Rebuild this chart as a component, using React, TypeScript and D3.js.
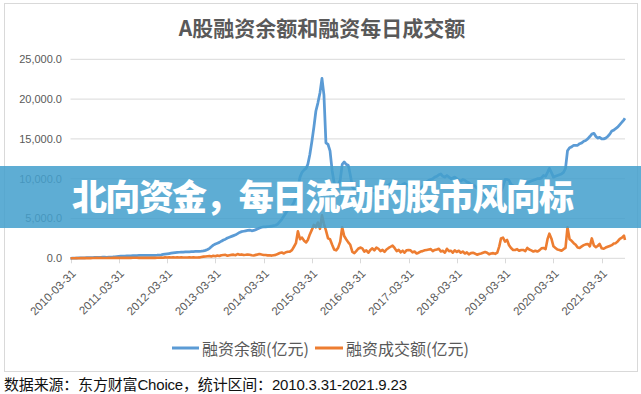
import React, { useRef, useEffect } from "react";
import * as d3 from "d3";

const WIDTH = 641;
const HEIGHT = 394;

// half-month sampling: 2010-03-31, then the 15th and the last day of every month
const startDate = new Date(2010, 2, 31);
const endDate = new Date(2021, 8, 23);

// 融资余额 (亿元)
const balanceValues: number[] = [
  5,
  // 2010 Apr-Dec
  10, 20, 30, 45, 55, 62, 68, 75, 82, 90, 98, 105, 112, 120, 128, 138, 135, 127,
  // 2011
  140, 155, 170, 190, 215, 240, 258, 272, 282, 292, 298, 312, 326, 340, 350, 356, 362, 366, 372, 376, 378, 380, 376, 382,
  // 2012
  392, 410, 440, 480, 520, 560, 600, 640, 680, 720, 740, 760, 775, 785, 795, 805, 815, 825, 840, 855, 870, 885, 900, 930,
  // 2013
  1000, 1100, 1250, 1450, 1650, 1800, 1900, 2000, 2150, 2300, 2400, 2550, 2650, 2750, 2850, 2950, 3100, 3250, 3350, 3400, 3450, 3500, 3550, 3450,
  // 2014
  3500, 3600, 3700, 3800, 3900, 3950, 3950, 3980, 4000, 4050, 4100, 4150, 4300, 4600, 4900, 5300, 5700, 6100, 6300, 6600, 7000, 7700, 8800, 10200,
  // 2015
  10800, 11100, 11300, 11800, 13000, 14700, 16500, 18500, 19500, 20800, 22600, 20500, 14500, 14300, 13500, 11000, 9500, 9100, 9200, 9800, 11800, 12100, 11800, 11700,
  // 2016
  10500, 9000, 8600, 8500, 8800, 9000, 8700, 8500, 8300, 8400, 8400, 8500, 8500, 8600, 8800, 9000, 9000, 8900, 9100, 9200, 9400, 9600, 9400, 9300,
  // 2017
  9200, 9100, 9300, 9400, 9300, 9000, 8900, 8800, 8700, 8600, 8700, 8800, 9000, 9300, 9600, 9800, 9900, 10000, 10200, 10300, 10500, 10600, 10300, 10200,
  // 2018
  10400, 10200, 10000, 10100, 10200, 10000, 9800, 9700, 9900, 9800, 9600, 9500, 9300, 9200, 9100, 8800, 8600, 8500, 8300, 7900, 7700, 7600, 7500, 7500,
  // 2019
  7400, 7500, 7700, 8400, 9000, 9900, 9900, 9800, 9300, 9100, 9000, 9000, 9100, 9200, 9400, 9400, 9500, 9600, 9700, 9800, 9900, 10000, 10000, 10100,
  // 2020
  10400, 10300, 10800, 11300, 10800, 10200, 10300, 10400, 10500, 10600, 10800, 11300, 13500, 13900, 14000, 14200, 14200, 14200, 14400, 14500, 14700, 14800, 15000, 15300,
  // 2021 Jan-Sep
  15600, 15700, 15300, 15100, 15200, 15000, 15000, 15100, 15300, 15600, 16000, 16100, 16300, 16500, 16800, 17100, 17400, 17600,
];

// 融资成交额 (亿元)
const turnoverValues: number[] = [
  10,
  // 2010 Apr-Dec
  15, 10, 22, 14, 28, 18, 30, 22, 38, 26, 42, 30, 48, 34, 52, 40, 46, 36,
  // 2011
  55, 42, 62, 48, 72, 54, 78, 58, 70, 52, 66, 56, 76, 62, 72, 58, 66, 52, 72, 58, 62, 52, 58, 54,
  // 2012
  64, 70, 92, 78, 112, 92, 124, 98, 132, 108, 122, 100, 114, 96, 104, 92, 112, 98, 118, 102, 104, 110, 170, 210,
  // 2013
  230, 260, 290, 230, 310, 255, 340, 280, 380, 410, 430, 320, 390, 430, 460, 390, 530, 440, 490, 410, 440, 480, 450, 390,
  // 2014
  360, 430, 490, 530, 470, 420, 410, 370, 380, 340, 390, 430, 540, 660, 720, 610, 760, 820, 840, 1020, 1450, 1900, 3400, 2400,
  // 2015
  2600, 2200, 2000, 2300, 3000, 3600, 4200, 3900, 4500, 3700, 5400, 4300, 3500, 2500, 2400, 1700, 1100, 1000, 1300, 2100, 3900, 2800, 2400, 2000,
  // 2016
  1700, 800, 650, 900, 1200, 1350, 1250, 850, 1000, 700, 1050, 1250, 1000, 1350, 1200, 900, 1050, 800, 1100, 1300, 1450, 1600, 1300, 900,
  // 2017
  1050, 750, 950, 700, 1000, 1050, 1000, 750, 850, 600, 700, 850, 900, 1000, 1050, 1100, 1150, 900, 1050, 1100, 1200, 850, 950, 700,
  // 2018
  1200, 900, 950, 700, 1000, 800, 950, 700, 850, 600, 750, 500, 650, 700, 600, 450, 550, 600, 700, 800, 700, 500, 600, 650,
  // 2019
  560, 720, 1500, 2500, 2600, 2100, 2300, 1650, 1300, 1050, 1050, 1150, 950, 1050, 1050, 900, 1300, 1100, 1000, 850, 950, 850, 1000, 1250,
  // 2020
  1300, 1150, 2400, 3100, 2500, 1500, 1300, 1100, 1050, 950, 1150, 1300, 3900, 2400, 2200, 1900, 1700, 1350, 1300, 1500, 1650, 1750, 1800, 1500,
  // 2021 Jan-Sep
  2500, 1600, 1400, 1550, 1800, 1250, 1200, 1350, 1450, 1550, 1650, 1850, 1900, 2150, 2450, 2600, 2850, 2300,
];

const yTicks = [0, 5000, 10000, 15000, 20000, 25000];
const xTickYears = [2010, 2011, 2012, 2013, 2014, 2015, 2016, 2017, 2018, 2019, 2020, 2021];

const seriesNames = ["融资余额(亿元)", "融资成交额(亿元)"];
const seriesColors = ["#5B9BD5", "#ED7D31"];

const chartTitle = "A股融资余额和融资每日成交额";
const bannerText = "北向资金，每日流动的股市风向标";
const footerText = "数据来源：东方财富Choice，统计区间：2010.3.31-2021.9.23";

const FONT = "'Liberation Sans', 'Noto Sans CJK SC', sans-serif";
const CJK = "'Noto Sans CJK SC', 'Liberation Sans', sans-serif";

// dates shared by both series
const buildDates = (): Date[] => {
  const dates: Date[] = [startDate];
  d3.timeMonth.range(new Date(2010, 3, 1), new Date(2021, 9, 1)).forEach((m) => {
    dates.push(new Date(m.getFullYear(), m.getMonth(), 15));
    const last = d3.timeDay.offset(d3.timeMonth.offset(m, 1), -1);
    dates.push(last > endDate ? endDate : last);
  });
  return dates;
};

const App = () => {
  const svgRef = useRef<SVGSVGElement>(null);

  useEffect(() => {
    const svg = d3.select(svgRef.current);
    svg.selectAll("*").remove();

    const dates = buildDates();
    const plot = { left: 70.5, right: 625, top: 59.3, bottom: 258.3 };

    const x = d3.scaleTime().domain([startDate, endDate]).range([plot.left, plot.right]);
    const y = d3.scaleLinear().domain([0, 25000]).range([plot.bottom, plot.top]);

    // chart frame
    svg.append("rect")
      .attr("x", 4.5).attr("y", 3.5)
      .attr("width", 633).attr("height", 368)
      .attr("fill", "#fff")
      .attr("stroke", "#D9D9D9");

    // title
    svg.append("text")
      .attr("x", 322).attr("y", 35.5)
      .attr("text-anchor", "middle")
      .attr("font-family", CJK)
      .attr("font-size", 21)
      .attr("font-weight", 700)
      .attr("fill", "#595959")
      .text(chartTitle);

    // gridlines + y labels
    const g = svg.append("g");
    yTicks.forEach((t) => {
      if (t > 0) {
        g.append("line")
          .attr("x1", plot.left).attr("x2", plot.right)
          .attr("y1", y(t)).attr("y2", y(t))
          .attr("stroke", "#D9D9D9");
      }
      g.append("text")
        .attr("x", 62).attr("y", y(t))
        .attr("dy", "0.35em")
        .attr("text-anchor", "end")
        .attr("font-family", FONT)
        .attr("font-size", 11)
        .attr("fill", "#595959")
        .text(d3.format(",.1f")(t));
    });

    // x axis
    const xTicks = xTickYears.map((yr) => new Date(yr, 2, 31));
    g.append("line")
      .attr("x1", plot.left).attr("x2", plot.right)
      .attr("y1", plot.bottom).attr("y2", plot.bottom)
      .attr("stroke", "#D9D9D9");
    xTicks.forEach((d) => {
      const tx = Math.round(x(d)) + 0.5;
      g.append("line")
        .attr("x1", tx).attr("x2", tx)
        .attr("y1", plot.bottom).attr("y2", plot.bottom + 5)
        .attr("stroke", "#D9D9D9");
      g.append("text")
        .attr("transform", `translate(${x(d) + 6},${plot.bottom + 16}) rotate(-45)`)
        .attr("text-anchor", "end")
        .attr("font-family", FONT)
        .attr("font-size", 11.5)
        .attr("fill", "#595959")
        .text(d3.timeFormat("%Y-%m-%d")(d));
    });

    // lines
    const lineGen = d3.line<number>()
      .x((_, i) => x(dates[i]))
      .y((v) => y(v));

    [balanceValues, turnoverValues].forEach((vals, i) => {
      g.append("path")
        .datum(vals)
        .attr("fill", "none")
        .attr("stroke", seriesColors[i])
        .attr("stroke-width", i === 0 ? 2.75 : 2.6)
        .attr("stroke-linejoin", "round")
        .attr("d", lineGen);
    });

    // legend
    const legendItems = [
      { x: 172, w: 27 },
      { x: 315, w: 28 },
    ];
    legendItems.forEach((it, i) => {
      svg.append("line")
        .attr("x1", it.x).attr("x2", it.x + it.w)
        .attr("y1", 348).attr("y2", 348)
        .attr("stroke", seriesColors[i])
        .attr("stroke-width", 3);
      svg.append("text")
        .attr("x", it.x + it.w + 3).attr("y", 354.5)
        .attr("font-family", CJK)
        .attr("font-size", 16)
        .attr("fill", "#595959")
        .text(seriesNames[i]);
    });

    // banner overlay
    svg.append("rect")
      .attr("x", 0).attr("y", 166)
      .attr("width", WIDTH).attr("height", 62)
      .attr("fill", "#449FCD")
      .attr("fill-opacity", 0.86);
    svg.append("text")
      .attr("x", 72).attr("y", 210)
      .attr("font-family", CJK)
      .attr("font-size", 35)
      .attr("font-weight", 900)
      .attr("fill", "#fff")
      .attr("textLength", 502)
      .text(bannerText);

    // footer
    svg.append("text")
      .attr("x", 4).attr("y", 390)
      .attr("font-family", FONT)
      .attr("font-size", 15)
      .attr("fill", "#111")
      .attr("textLength", 403)
      .text(footerText);
  }, []);

  return (
    <svg
      ref={svgRef}
      width={WIDTH}
      height={HEIGHT}
      style={{ position: "absolute", left: 0, top: 0, background: "#fff" }}
    />
  );
};

export default App;
